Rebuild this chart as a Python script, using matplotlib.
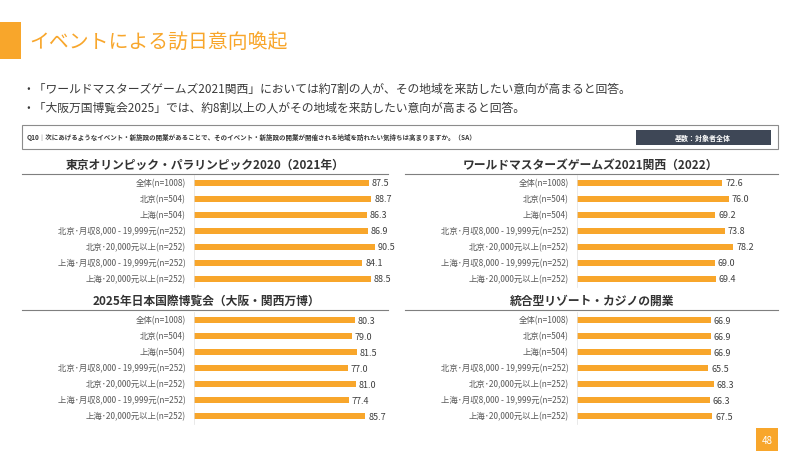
import numpy as np
import matplotlib
matplotlib.use("Agg")
import matplotlib.pyplot as plt
from matplotlib.patches import Rectangle
from matplotlib.lines import Line2D

plt.rcParams["font.family"] = ["Noto Sans CJK JP", "DejaVu Sans"]

W, H = 800, 451

# data
categories = [
    "全体(n=1008)",
    "北京(n=504)",
    "上海(n=504)",
    "北京･月収8,000 - 19,999元(n=252)",
    "北京･20,000元以上(n=252)",
    "上海･月収8,000 - 19,999元(n=252)",
    "上海･20,000元以上(n=252)",
]
tokyo_2020 = [87.5, 88.7, 86.3, 86.9, 90.5, 84.1, 88.5]
wmg_2021 = [72.6, 76.0, 69.2, 73.8, 78.2, 69.0, 69.4]
expo_2025 = [80.3, 79.0, 81.5, 77.0, 81.0, 77.4, 85.7]
ir_casino = [66.9, 66.9, 66.9, 65.5, 68.3, 66.3, 67.5]

panel_titles = [
    "東京オリンピック・パラリンピック2020（2021年）",
    "ワールドマスターズゲームズ2021関西（2022）",
    "2025年日本国際博覧会（大阪・関西万博）",
    "統合型リゾート・カジノの開業",
]
panel_values = [tokyo_2020, wmg_2021, expo_2025, ir_casino]

page_title = "イベントによる訪日意向喚起"
bullets = [
    "・「ワールドマスターズゲームズ2021関西」においては約7割の人が、その地域を来訪したい意向が高まると回答。",
    "・「大阪万国博覧会2025」では、約8割以上の人がその地域を来訪したい意向が高まると回答。",
]
question = "Q10｜次にあげるようなイベント・新施設の開業があることで、そのイベント・新施設の開業が開催される地域を訪れたい気持ちは高まりますか。（SA）"
base_label = "基数：対象者全体"
page_no = "48"

ORANGE = "#F8A62B"
DARK = "#3A3A3A"

fig = plt.figure(figsize=(W / 100, H / 100), dpi=100)


def fx(x):
    return x / W


def fy(y):
    return 1 - y / H


# header
fig.patches.append(Rectangle((0, fy(59)), fx(21), 37 / H, transform=fig.transFigure,
                             facecolor=ORANGE, edgecolor="none"))
fig.text(fx(29), fy(40), page_title, fontsize=14.3, color=ORANGE, va="center_baseline", ha="left")

fig.text(fx(22), fy(88), bullets[0], fontsize=8.5, color=DARK, va="center_baseline")
fig.text(fx(22), fy(107), bullets[1], fontsize=8.5, color=DARK, va="center_baseline")

# question box
fig.patches.append(Rectangle((fx(22), fy(149)), fx(756), 24 / H, transform=fig.transFigure,
                             facecolor="white", edgecolor="#8c8c8c", linewidth=0.8))
fig.text(fx(27), fy(137), question, fontsize=4.7, color=DARK, va="center_baseline",
         fontweight="bold")
fig.patches.append(Rectangle((fx(636), fy(145)), fx(135), 15 / H, transform=fig.transFigure,
                             facecolor="#3E4756", edgecolor="none"))
fig.text(fx(703), fy(137.5), base_label, fontsize=5, color="white", va="center_baseline",
         ha="center", fontweight="bold")

# panels: (axes left px, axes top px, title center x, title y, line x0, line x1, line y)
layout = [
    (194, 175, 205, 164, 22, 388, 174),
    (577, 175, 590, 164, 405, 778, 174),
    (194, 312, 206, 300, 22, 388, 310),
    (577, 312, 592, 300, 405, 778, 310),
]

y = np.arange(len(categories))
for (left, top, tx, ty, lx0, lx1, ly), title, vals in zip(layout, panel_titles, panel_values):
    ax = fig.add_axes([fx(left), fy(top + 112), 200 / W, 112 / H])
    ax.barh(y, vals, height=0.38, color=ORANGE)
    ax.set_xlim(0, 100)
    ax.set_ylim(6.5, -0.5)
    ax.set_yticks(y)
    ax.set_yticklabels(categories, fontsize=6, color="#595959", va="center_baseline")
    ax.tick_params(axis="y", length=0, pad=6)
    ax.set_xticks([])
    for s in ["top", "right", "bottom"]:
        ax.spines[s].set_visible(False)
    ax.spines["left"].set_color("#e0e0e0")
    ax.spines["left"].set_linewidth(0.5)
    ax.patch.set_alpha(0)
    for yi, v in zip(y, vals):
        ax.text(v + 1.5, yi, f"{v:.1f}", fontsize=6.5, color="#404040",
                va="center_baseline", ha="left")

    fig.text(fx(tx), fy(ty), title, fontsize=8.5, fontweight="bold", color="#333333",
             ha="center", va="center_baseline")
    fig.lines.append(Line2D([fx(lx0), fx(lx1)], [fy(ly), fy(ly)], transform=fig.transFigure,
                            color="#7f7f7f", linewidth=0.8))

# page number
fig.patches.append(Rectangle((fx(756), 0), fx(22), 23 / H, transform=fig.transFigure,
                             facecolor=ORANGE, edgecolor="none"))
fig.text(fx(767), fy(439.5), page_no, fontsize=7, color="white", ha="center",
         va="center_baseline")

fig.savefig("out.png", dpi=100)
